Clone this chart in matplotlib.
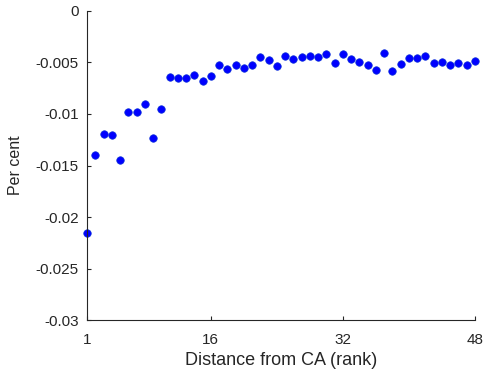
import matplotlib
matplotlib.use('Agg')
import matplotlib.pyplot as plt

rank = list(range(1, 49))
per_cent = [-0.02155, -0.01395, -0.01194, -0.01201, -0.01444, -0.00977, -0.00984, -0.00900,
            -0.01233, -0.00951, -0.00641, -0.00647, -0.00647, -0.00621, -0.00676, -0.00628,
            -0.00528, -0.00560, -0.00524, -0.00550, -0.00521, -0.00447, -0.00476, -0.00531,
            -0.00437, -0.00469, -0.00447, -0.00434, -0.00447, -0.00417, -0.00502, -0.00414,
            -0.00469, -0.00492, -0.00521, -0.00573, -0.00411, -0.00580, -0.00511, -0.00456,
            -0.00459, -0.00440, -0.00502, -0.00492, -0.00521, -0.00502, -0.00527, -0.00485]

x_ticks = [1, 16, 32, 48]
y_ticks = [0, -0.005, -0.01, -0.015, -0.02, -0.025, -0.03]
y_labels = ['0', '-0.005', '-0.01', '-0.015', '-0.02', '-0.025', '-0.03']

plt.rcParams['font.family'] = ['Liberation Sans', 'DejaVu Sans']
axis_color = (0.15, 0.15, 0.15)

fig = plt.figure(figsize=(4.84, 3.77), dpi=100)
ax = fig.add_axes([0.1798, 0.151, 0.8012, 0.820])

ax.plot(rank, per_cent, 'o', color='#0000ff', markersize=5.4, markeredgewidth=0.5,
        markeredgecolor='#0a2fd8', clip_on=False)

ax.set_xlim(1, 48)
ax.set_ylim(-0.03, 0)
ax.set_xticks(x_ticks)
ax.set_yticks(y_ticks)
ax.set_yticklabels(y_labels)

for side in ['top', 'right']:
    ax.spines[side].set_visible(False)
for side in ['left', 'bottom']:
    ax.spines[side].set_color(axis_color)
    ax.spines[side].set_linewidth(0.8)

ax.tick_params(direction='in', length=3, width=0.8, colors=axis_color, labelsize=11)
ax.tick_params(axis='x', pad=9)
ax.tick_params(axis='y', pad=6)
ax.set_xlabel('Distance from CA (rank)', fontsize=13, color=axis_color, labelpad=4)
ax.set_ylabel('Per cent', fontsize=11.5, color=axis_color, labelpad=9)

fig.savefig('out.png', dpi=100)
